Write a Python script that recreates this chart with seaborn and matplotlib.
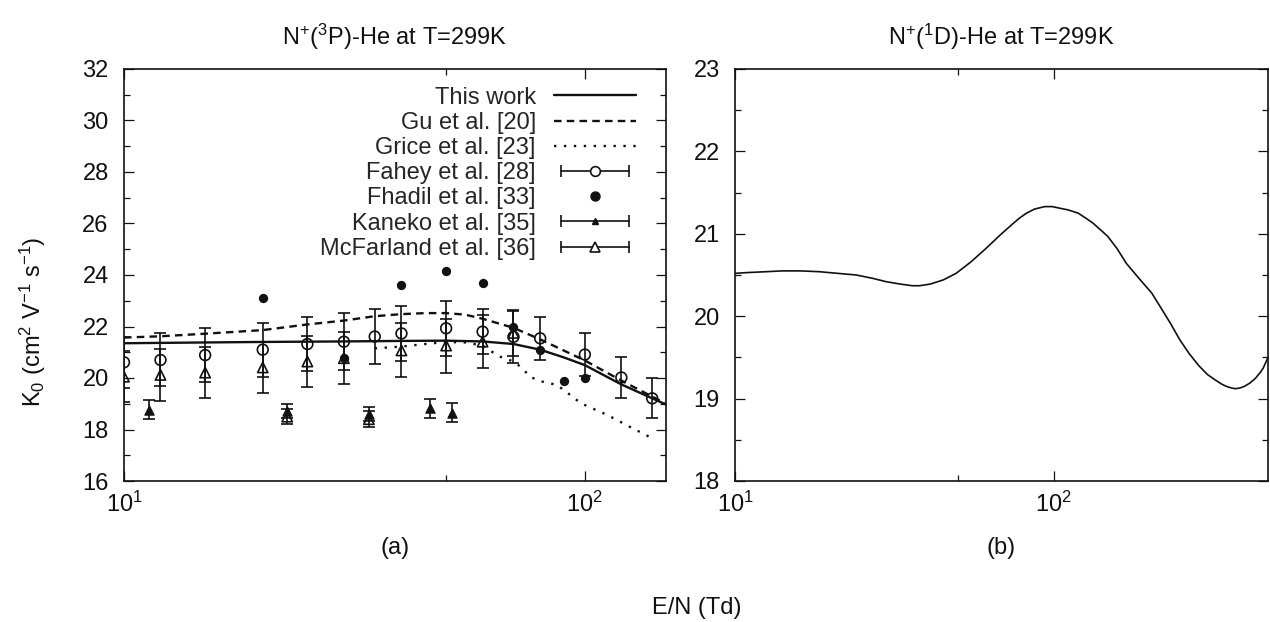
import matplotlib
matplotlib.use("Agg")
import matplotlib.pyplot as plt
import seaborn as sns
from matplotlib.legend_handler import HandlerLine2D
from matplotlib.lines import Line2D
from matplotlib.ticker import FixedLocator, MultipleLocator, NullFormatter

# ---- panel (a): N+(3P)-He, K0 vs E/N ----
this_work_en = [10, 15, 20, 30, 40, 50, 60, 70, 80, 90, 100, 120, 150]
this_work_k0 = [21.35, 21.38, 21.40, 21.42, 21.44, 21.45, 21.42, 21.32, 21.10, 20.80, 20.50, 19.75, 18.97]

gu_en = [10, 12, 15, 20, 25, 30, 35, 40, 45, 50, 55, 60, 70, 80, 100, 120, 150]
gu_k0 = [21.57, 21.62, 21.72, 21.86, 22.08, 22.23, 22.40, 22.48, 22.52, 22.52, 22.46, 22.30,
         21.95, 21.50, 20.68, 19.90, 19.00]

grice_en = [35, 40, 45, 50, 55, 60, 65, 70, 73, 76, 80, 87, 93, 98, 112, 125, 140]
grice_k0 = [21.15, 21.22, 21.32, 21.40, 21.38, 21.26, 20.85, 20.64, 20.40, 20.05, 19.88,
            19.73, 19.34, 19.02, 18.56, 18.11, 17.66]

fahey_en = [10, 12, 15, 20, 25, 30, 35, 40, 50, 60, 70, 80, 100, 120, 140]
fahey_k0 = [20.61, 20.70, 20.89, 21.10, 21.32, 21.41, 21.61, 21.73, 21.93, 21.80, 21.60,
            21.54, 20.91, 20.02, 19.21]
fahey_err = [1.00, 1.03, 1.04, 1.05, 1.04, 1.10, 1.06, 1.07, 1.07, 0.87, 1.00, 0.84, 0.82, 0.78, 0.78]

fhadil_en = [20, 30, 40, 50, 60, 70, 80, 90, 100]
fhadil_k0 = [23.11, 20.79, 23.63, 24.16, 23.70, 21.97, 21.10, 19.87, 19.99]

kaneko_en = [11.35, 22.6, 34.0, 46.1, 51.6]
kaneko_k0 = [18.76, 18.72, 18.60, 18.82, 18.66]
kaneko_err = [0.37, 0.27, 0.27, 0.38, 0.35]

mcfarland_en = [10, 12, 15, 20, 22.6, 25, 30, 34.0, 40, 50, 60, 70]
mcfarland_k0 = [20.05, 20.12, 20.21, 20.41, 18.50, 20.64, 20.77, 18.40, 21.07, 21.26, 21.41, 21.75]
mcfarland_err = [1.00, 1.00, 1.00, 1.00, 0.30, 1.00, 1.00, 0.30, 1.05, 1.05, 1.04, 0.90]

# ---- panel (b): N+(1D)-He ----
d_en = [10, 11, 12.5, 14.1, 16, 18.4, 21, 24, 27, 29.7, 33, 35.9, 38, 41, 45, 49.4, 55, 61.2,
        68.1, 73.8, 78, 82.1, 87, 93.7, 99, 104.5, 111, 119.4, 126, 132.7, 140, 147.6, 158,
        169, 185, 203, 217, 232.6, 248, 265.5, 285, 304, 320, 335, 347, 360, 371.5, 385,
        397, 413, 430, 445, 454, 470]
d_k0 = [20.52, 20.53, 20.54, 20.55, 20.55, 20.54, 20.52, 20.50, 20.46, 20.42, 20.39, 20.37,
        20.37, 20.39, 20.44, 20.52, 20.66, 20.82, 20.99, 21.11, 21.19, 21.25, 21.30, 21.33,
        21.33, 21.31, 21.29, 21.25, 21.19, 21.13, 21.05, 20.97, 20.82, 20.64, 20.46, 20.28,
        20.10, 19.91, 19.72, 19.55, 19.40, 19.29, 19.23, 19.18, 19.15, 19.13, 19.12, 19.13,
        19.15, 19.19, 19.25, 19.32, 19.37, 19.50]

INK = "#111111"
FS = 17


def style_axes(ax, xmax, ymin, ymax, ymajor, yminor):
    ax.set_xscale("log")
    ax.set_xlim(10, xmax)
    ax.set_ylim(ymin, ymax)
    ax.xaxis.set_minor_locator(FixedLocator([50]))
    ax.xaxis.set_minor_formatter(NullFormatter())
    ax.yaxis.set_major_locator(MultipleLocator(ymajor))
    ax.yaxis.set_minor_locator(MultipleLocator(yminor))
    ax.tick_params(which="both", direction="in", top=True, right=True, color=INK,
                   width=0.9, labelsize=FS, labelcolor=INK)
    ax.tick_params(which="major", length=7)
    ax.tick_params(which="minor", length=4)
    ax.tick_params(axis="y", pad=11)
    ax.tick_params(axis="x", pad=8)
    for s in ax.spines.values():
        s.set_linewidth(1.2)
        s.set_color(INK)
    ax.grid(False)


def main():
    sns.set_style("ticks")
    plt.rcParams["font.family"] = ["Liberation Sans", "DejaVu Sans"]
    plt.rcParams["mathtext.fontset"] = "custom"
    plt.rcParams["mathtext.rm"] = "Liberation Sans"
    plt.rcParams["mathtext.it"] = "Liberation Sans:italic"
    plt.rcParams["mathtext.bf"] = "Liberation Sans:bold"

    fig = plt.figure(figsize=(12.7, 6.22), dpi=100)
    ax_a = fig.add_axes([124 / 1270, 141 / 622, 542 / 1270, 412 / 622])
    ax_b = fig.add_axes([735 / 1270, 141 / 622, 533 / 1270, 412 / 622])

    # curves
    sns.lineplot(x=this_work_en, y=this_work_k0, ax=ax_a, color=INK, lw=1.7, errorbar=None)
    sns.lineplot(x=gu_en, y=gu_k0, ax=ax_a, color=INK, lw=1.7, errorbar=None,
                 linestyle=(0, (3.2, 2.2)))
    sns.lineplot(x=grice_en, y=grice_k0, ax=ax_a, color=INK, lw=1.7, errorbar=None,
                 linestyle=(0, (1, 3.2)))

    # experimental points with error bars
    ebar = dict(fmt="none", ecolor=INK, elinewidth=1.2, capsize=4, capthick=1.2, zorder=3)
    ax_a.errorbar(fahey_en, fahey_k0, yerr=fahey_err, **ebar)
    ax_a.errorbar(kaneko_en, kaneko_k0, yerr=kaneko_err, **ebar)
    ax_a.errorbar(mcfarland_en, mcfarland_k0, yerr=mcfarland_err, **ebar)

    sns.scatterplot(x=fahey_en, y=fahey_k0, ax=ax_a, marker="o", s=60, facecolor="none",
                    edgecolor=INK, linewidth=1.2, zorder=4)
    sns.scatterplot(x=fhadil_en, y=fhadil_k0, ax=ax_a, marker="o", s=45, color=INK,
                    edgecolor=INK, linewidth=0, zorder=4)
    sns.scatterplot(x=kaneko_en, y=kaneko_k0, ax=ax_a, marker="^", s=45, color=INK,
                    edgecolor=INK, linewidth=0.8, zorder=4)
    sns.scatterplot(x=mcfarland_en, y=mcfarland_k0, ax=ax_a, marker="^", s=55,
                    facecolor="none", edgecolor=INK, linewidth=1.2, zorder=4)

    style_axes(ax_a, 150, 16, 32, 2, 1)
    ax_a.set_title(r"N$^{+}$($^{3}$P)-He at T=299K", fontsize=FS, color=INK, pad=17)
    ax_a.set_xlabel("(a)", fontsize=FS, color=INK, labelpad=14)
    ax_a.set_ylabel("")

    # legend in gnuplot style: label on the left, sample on the right
    bar = Line2D([], [], color=INK, lw=1.2, marker="|", markersize=8, markeredgewidth=1.2)
    handles = [
        Line2D([], [], color=INK, lw=1.7),
        Line2D([], [], color=INK, lw=1.7, linestyle=(0, (3.2, 2.2))),
        Line2D([], [], color=INK, lw=1.7, linestyle=(0, (1, 3.2))),
        (bar, Line2D([], [], ls="none", marker="o", ms=7, mfc="white", mec=INK, mew=1.2)),
        Line2D([], [], ls="none", marker="o", ms=6.5, mfc=INK, mec=INK),
        (bar, Line2D([], [], ls="none", marker="^", ms=5, mfc=INK, mec=INK)),
        (bar, Line2D([], [], ls="none", marker="^", ms=7, mfc="white", mec=INK, mew=1.2)),
    ]
    labels = ["This work", "Gu et al. [20]", "Grice et al. [23]", "Fahey et al. [28]",
              "Fhadil et al. [33]", "Kaneko et al. [35]", "McFarland et al. [36]"]
    ax_a.legend(handles, labels, loc="upper right", bbox_to_anchor=(0.945, 0.957),
                frameon=False, markerfirst=False, fontsize=FS, handlelength=3.5,
                handletextpad=0.75, labelspacing=0.135, borderpad=0, borderaxespad=0,
                handler_map={bar: HandlerLine2D(numpoints=2)})

    # panel (b)
    sns.lineplot(x=d_en, y=d_k0, ax=ax_b, color=INK, lw=1.2, errorbar=None)
    style_axes(ax_b, 470, 18, 23, 1, 0.5)
    ax_b.set_title(r"N$^{+}$($^{1}$D)-He at T=299K", fontsize=FS, color=INK, pad=17)
    ax_b.set_xlabel("(b)", fontsize=FS, color=INK, labelpad=14)
    ax_b.set_ylabel("")

    fig.text(33 / 1270, 1 - 322 / 622, r"K$_0$ (cm$^2$ V$^{-1}$ s$^{-1}$)", rotation=90,
             ha="center", va="center", fontsize=FS, color=INK)
    fig.text(697 / 1270, 1 - 608 / 622, "E/N (Td)", ha="center", va="center",
             fontsize=FS, color=INK)

    fig.savefig("out.png", dpi=100)
    plt.close(fig)


if __name__ == "__main__":
    main()
